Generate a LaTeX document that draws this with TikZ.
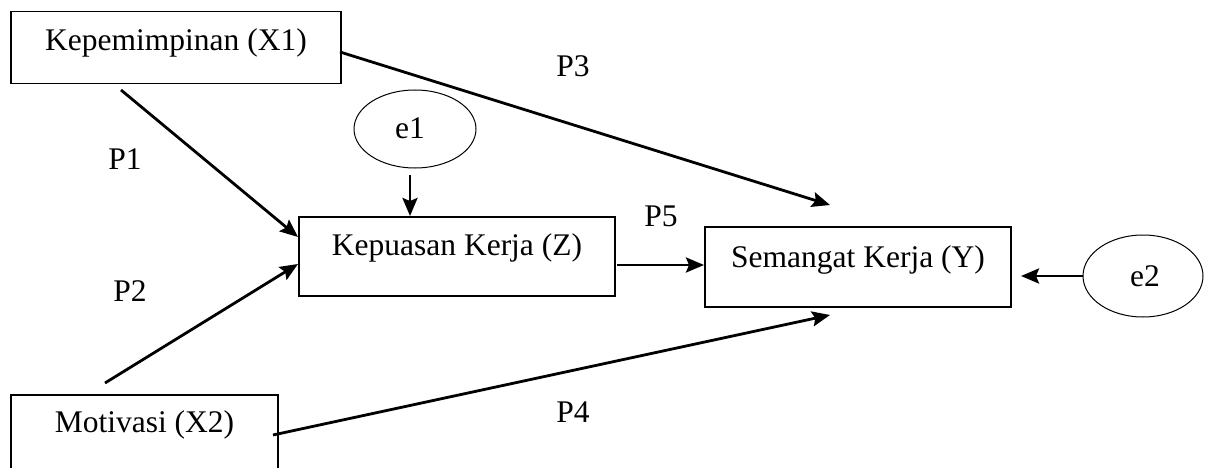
\documentclass[tikz,border=0pt]{standalone}
\usepackage{fontspec}
\setmainfont{Liberation Serif}
\usetikzlibrary{arrows.meta,shapes.geometric}
\begin{document}
\begin{tikzpicture}[x=1pt,y=-1pt,
  box/.style={draw,line width=1.4pt,rectangle,inner sep=0pt},
  err/.style={draw,line width=1pt,ellipse,inner sep=0pt},
  txt/.style={font=\fontsize{31.5}{36}\selectfont,inner sep=0pt},
  arr/.style={line width=2.8pt,-{Stealth[length=18pt,width=15pt,inset=3pt]}}]
\useasboundingbox (0,0) rectangle (1226,468);
\clip (0,0) rectangle (1226,468);
% boxes
\node[box,minimum width=330pt,minimum height=72pt] (x1) at (176,47.5) {};
\node[txt] (x1t) at (176,43) {Kepemimpinan (X1)};
\node[box,minimum width=316pt,minimum height=79pt] (z) at (457,256.5) {};
\node[txt] (zt) at (457,248) {Kepuasan Kerja (Z)};
\node[box,minimum width=306pt,minimum height=80pt] (y) at (858,267) {};
\node[txt] (yt) at (858,260) {Semangat Kerja (Y)};
\node[box,minimum width=267pt,minimum height=100pt] (x2) at (144.5,445) {};
\node[txt] (x2t) at (144.5,425) {Motivasi (X2)};
% error terms
\node[err,minimum width=122pt,minimum height=78pt] (e1) at (415,129) {};
\node[txt] (e1t) at (410,128) {e1};
\node[err,minimum width=120pt,minimum height=82pt] (e2) at (1143,276) {};
\node[txt] (e2t) at (1145,276) {e2};
% free coordinates
\coordinate (p1s) at (121,90);
\coordinate (p1e) at (298,237);
\coordinate (p2s) at (105,383);
\coordinate (p2e) at (298,264);
\coordinate (p3s) at (340,52);
\coordinate (p3e) at (830,205);
\coordinate (p4s) at (273,435);
\coordinate (p4e) at (830,315);
\coordinate (p5s) at (617,265);
\coordinate (p5e) at (704,265);
\coordinate (e1s) at (410,175);
\coordinate (e1e) at (410,216);
\coordinate (e2s) at (1083,276);
\coordinate (e2e) at (1021,276);
% arrows
\draw[arr] (p1s) -- (p1e);
\draw[arr] (p2s) -- (p2e);
\draw[arr] (p3s) -- (p3e);
\draw[arr] (p4s) -- (p4e);
\draw[arr] (p5s) -- (p5e);
\draw[arr] (e1s) -- (e1e);
\draw[arr] (e2s) -- (e2e);
% labels
\node[txt] (lp3) at (573,66) {P3};
\node[txt] (lp1) at (125,159) {P1};
\node[txt] (lp5) at (661,216) {P5};
\node[txt] (lp2) at (130,291) {P2};
\node[txt] (lp4) at (573,412) {P4};
\end{tikzpicture}
\end{document}
